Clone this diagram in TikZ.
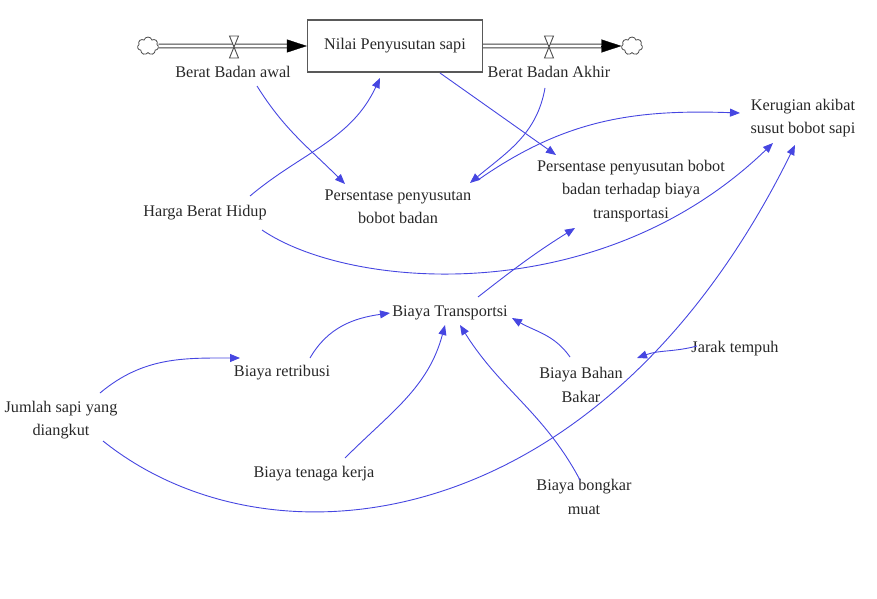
\documentclass[tikz,border=0pt]{standalone}
\usepackage{fontspec}
\setmainfont{Liberation Serif}
\usetikzlibrary{arrows.meta,shapes.symbols,calc}
\definecolor{linkblue}{RGB}{70,70,225}
\definecolor{txt}{RGB}{40,40,40}
\begin{document}
\begin{tikzpicture}[x=1bp,y=1bp,
  lbl/.style={font=\fontsize{16.3}{23.5}\selectfont, text=txt, align=center, inner sep=1bp},
  stock/.style={draw=black!65, line width=1.3bp, fill=white, minimum width=175bp, minimum height=52bp, font=\fontsize{16.3}{23.5}\selectfont, text=txt},
  conn/.style={draw=linkblue, line width=0.9bp, -{Triangle[length=10bp,width=8bp]}},
  pipe/.style={draw=black!75, double=white, double distance=2.6bp, line width=1.1bp},
  pipetip/.style={draw=black, line width=0.3bp, -{Triangle[length=20bp,width=13bp]}},
  cloudy/.style={cloud, cloud puffs=7, draw=black!70, line width=0.8bp, fill=white, minimum width=21bp, minimum height=18bp, inner sep=0pt},
  valve/.style={draw=black!70, line width=0.9bp, fill=white}]
\useasboundingbox (0,0) rectangle (877,-599);

% stock and flows
\node[stock] (nps) at (395,-46) {Nilai Penyusutan sapi};
\node[cloudy] (c1) at (148,-46) {};
\node[cloudy] (c2) at (632,-46) {};
\coordinate (v1) at (234,-47);
\coordinate (v2) at (549,-47);
\draw[pipe] (c1.east) -- ([xshift=-19bp]nps.west);
\draw[pipetip] ([xshift=-20bp]nps.west) -- (nps.west);
\draw[pipe] (nps.east) -- ([xshift=-19bp]c2.west);
\draw[pipetip] ([xshift=-20bp]c2.west) -- (c2.west);
\draw[valve] ([shift={(-4.5,11)}]v1) -- ([shift={(4.5,11)}]v1) -- ([shift={(-4.5,-11)}]v1) -- ([shift={(4.5,-11)}]v1) -- cycle;
\draw[valve] ([shift={(-4.5,11)}]v2) -- ([shift={(4.5,11)}]v2) -- ([shift={(-4.5,-11)}]v2) -- ([shift={(4.5,-11)}]v2) -- cycle;

% variables
\node[lbl] (bbawal) at (233,-72) {Berat Badan awal};
\node[lbl] (bbakhir) at (549,-72) {Berat Badan Akhir};
\node[lbl] (kerugian) at (803,-118) {Kerugian akibat\\susut bobot sapi};
\node[lbl] (ppbb) at (398,-207) {Persentase penyusutan\\bobot badan};
\node[lbl] (ppbbt) at (631,-191) {Persentase penyusutan bobot\\badan terhadap biaya\\transportasi};
\node[lbl] (harga) at (205,-213) {Harga Berat Hidup};
\node[lbl] (bt) at (450,-313) {Biaya Transportsi};
\node[lbl] (retribusi) at (282,-373) {Biaya retribusi};
\node[lbl] (jarak) at (735,-349) {Jarak tempuh};
\node[lbl] (bbb) at (581,-385) {Biaya Bahan\\Bakar};
\node[lbl] (jumlah) at (61,-420) {Jumlah sapi yang\\diangkut};
\node[lbl] (tenaga) at (314,-474) {Biaya tenaga kerja};
\node[lbl] (bongkar) at (584,-497) {Biaya bongkar\\muat};

% links
\draw[conn] ([shift={(24,-14)}]bbawal.center) to[out=-58,in=135] ([shift={(-53,23)}]ppbb.center);
\draw[conn] ([shift={(45,17)}]harga.center) to[out=40,in=245] ([shift={(-15,-32)}]nps.center);
\draw[conn] ([shift={(45,-27)}]nps.center) -- ([shift={(-75,36)}]ppbbt.center);
\draw[conn] ([shift={(-4,-16)}]bbakhir.center) to[out=-100,in=40] ([shift={(72,24)}]ppbb.center);
\draw[conn] ([shift={(80,27)}]ppbb.center) to[out=35,in=178] ([shift={(-63,5)}]kerugian.center);
\draw[conn] ([shift={(57,-17)}]harga.center) .. controls (350,-290) and (600,-310) .. ([shift={(-30,-25)}]kerugian.center);
\draw[conn] ([shift={(28,16)}]bt.center) to[out=38,in=212] ([shift={(-56,-37)}]ppbbt.center);
\draw[conn] ([shift={(28,15)}]retribusi.center) to[out=60,in=188] ([shift={(-60,0)}]bt.center);
\draw[conn] ([shift={(39,27)}]jumlah.center) to[out=40,in=180] ([shift={(-42,15)}]retribusi.center);
\draw[conn] ([shift={(42,-21)}]jumlah.center) .. controls (270,-575) and (600,-540) .. ([shift={(-8,-27)}]kerugian.center);
\draw[conn] ([shift={(31,16)}]tenaga.center) to[out=45,in=255] ([shift={(-5,-12)}]bt.center);
\draw[conn] ([shift={(-4,17)}]bongkar.center) to[out=118,in=-58] ([shift={(10,-12)}]bt.center);
\draw[conn] ([shift={(-11,28)}]bbb.center) to[out=125,in=-30] ([shift={(62,-5)}]bt.center);
\draw[conn] ([shift={(-38,3)}]jarak.center) to[out=195,in=20] ([shift={(56,27)}]bbb.center);
\end{tikzpicture}
\end{document}
